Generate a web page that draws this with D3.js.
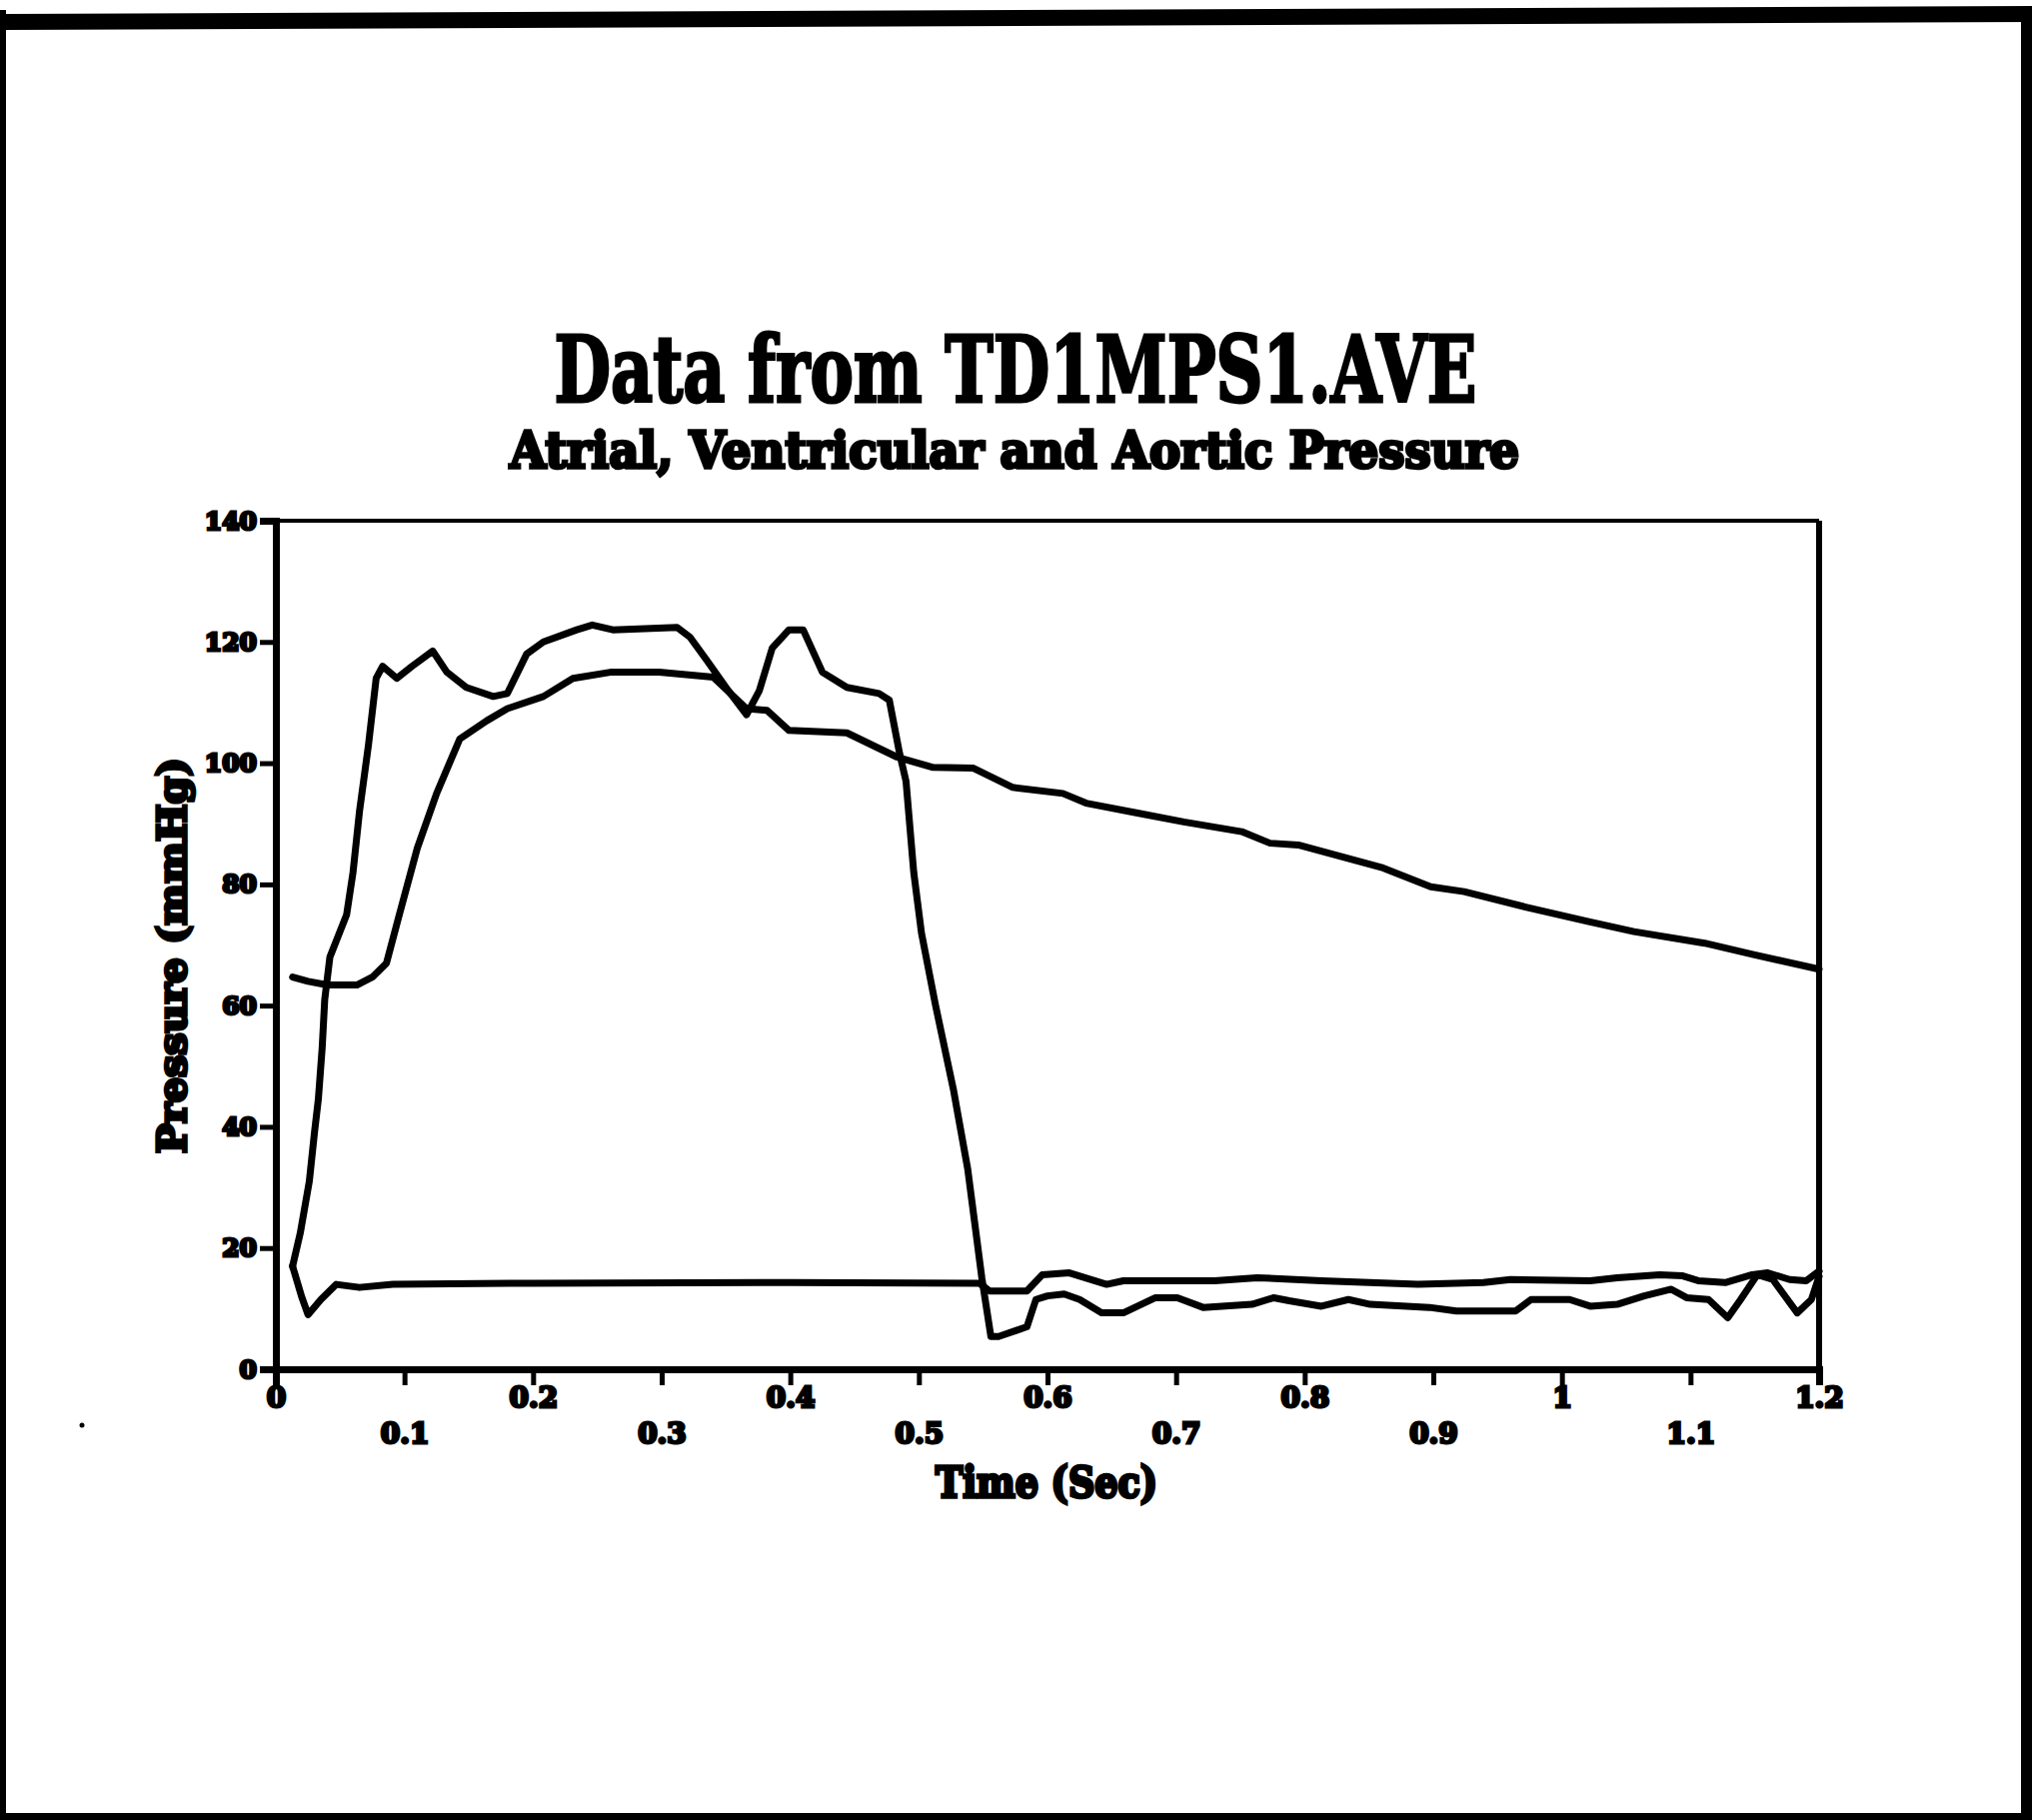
<!DOCTYPE html>
<html>
<head>
<meta charset="utf-8">
<script src="https://cdn.jsdelivr.net/npm/d3@7"></script>
<style>
  html, body { margin: 0; padding: 0; background: #fff; }
  svg { display: block; }
</style>
</head>
<body>
<script>
// ---------- data ----------
const titleText = "Data from TD1MPS1.AVE";
const subtitleText = "Atrial,  Ventricular and Aortic Pressure";
const xLabelText = "Time  (Sec)";
const yLabelText = "Pressure  (mmHg)";

const xTicks = [0, 0.1, 0.2, 0.3, 0.4, 0.5, 0.6, 0.7, 0.8, 0.9, 1.0, 1.1, 1.2];
const xTickLabels = ["0", "0.1", "0.2", "0.3", "0.4", "0.5", "0.6", "0.7", "0.8", "0.9", "1", "1.1", "1.2"];
const yTicks = [0, 20, 40, 60, 80, 100, 120, 140];
const yTickLabels = ["0", "20", "40", "60", "80", "100", "120", "140"];

// Ventricular pressure (mmHg) vs time (s)
const ventTime = [0.013,0.019,0.026,0.030,0.033,0.036,0.038,0.042,0.055,0.060,0.065,0.072,0.078,0.083,0.094,0.106,0.122,0.133,0.148,0.169,0.180,0.195,0.208,0.234,0.246,0.262,0.312,0.322,0.335,0.350,0.366,0.376,0.386,0.399,0.410,0.425,0.444,0.469,0.477,0.485,0.490,0.496,0.502,0.513,0.527,0.538,0.549,0.556,0.562,0.584,0.591,0.600,0.613,0.625,0.642,0.659,0.684,0.701,0.721,0.759,0.776,0.788,0.813,0.834,0.851,0.897,0.918,0.964,0.976,1.006,1.022,1.043,1.064,1.085,1.097,1.114,1.129,1.139,1.152,1.164,1.183,1.194,1.200];
const ventP    = [17,22.5,31,39,44.5,53,61,68,75,82,92,103,114,116,114,116,118.5,115,112.5,111,111.5,118,120,122,122.8,122,122.4,120.8,117,112.5,108,112,119,122,122,115,112.5,111.5,110.4,101.6,97,82,72,60,46,33,15,5.4,5.4,7,11.5,12.1,12.4,11.5,9.3,9.3,11.8,11.8,10.2,10.7,11.8,11.3,10.4,11.5,10.7,10.2,9.6,9.6,11.5,11.5,10.4,10.7,12.1,13.2,11.8,11.5,8.5,11.5,15.6,14.8,9.3,11.5,15.3];

// Aortic pressure
const aortTime = [0.013,0.025,0.040,0.063,0.075,0.086,0.096,0.110,0.125,0.143,0.164,0.180,0.208,0.231,0.260,0.298,0.340,0.366,0.382,0.399,0.444,0.483,0.511,0.542,0.573,0.612,0.630,0.669,0.706,0.751,0.773,0.795,0.861,0.898,0.924,0.971,1.020,1.056,1.111,1.149,1.200];
const aortP    = [64.7,64,63.4,63.4,64.7,67,75,86,95,104,107,109,111,114,115,115,114.2,109,108.7,105.4,105,101,99.3,99.2,96,95,93.4,91.8,90.3,88.7,86.8,86.5,82.7,79.6,78.8,76.3,73.9,72.2,70.3,68.4,66];

// Atrial pressure
const atrTime = [0.013,0.020,0.025,0.035,0.047,0.065,0.091,0.200,0.400,0.547,0.555,0.584,0.596,0.617,0.646,0.659,0.730,0.763,0.813,0.888,0.939,0.960,1.022,1.043,1.076,1.094,1.106,1.127,1.148,1.160,1.177,1.190,1.200];
const atrP    = [17,12,9,11.5,14,13.5,14,14.2,14.3,14.2,12.9,12.9,15.6,15.9,14.0,14.6,14.6,15.1,14.6,14.0,14.3,14.8,14.6,15.1,15.6,15.4,14.6,14.3,15.6,15.9,14.8,14.6,16.2];

// ---------- drawing ----------
const W = 2033, H = 1821;
const svg = d3.select("body").append("svg").attr("width", W).attr("height", H);
svg.append("rect").attr("width", W).attr("height", H).attr("fill", "#fff");

// outer frame
const frame = svg.append("g").attr("fill", "#000");
frame.append("polygon").attr("points", "0,14 2033,6 2033,22 0,30");
frame.append("rect").attr("x", 0).attr("y", 10).attr("width", 6).attr("height", H - 10);
frame.append("rect").attr("x", W - 11).attr("y", 7).attr("width", 11).attr("height", H - 7);
frame.append("rect").attr("x", 0).attr("y", H - 7).attr("width", W).attr("height", 7);
frame.append("circle").attr("cx", 82).attr("cy", 1426).attr("r", 2.5);

const x = d3.scaleLinear().domain([0, 1.2]).range([276, 1820]);
const y = d3.scaleLinear().domain([0, 140]).range([1370, 521]);

const serif = "'DejaVu Serif', 'Liberation Serif', serif";

// titles
svg.append("text").attr("x", 1016).attr("y", 402).attr("text-anchor", "middle")
  .attr("font-family", serif).attr("font-weight", "bold").attr("font-size", 92)
  .attr("textLength", 923).attr("lengthAdjust", "spacingAndGlyphs")
  .attr("stroke", "#000").attr("stroke-width", 3)
  .text(titleText);
svg.append("text").attr("x", 1015).attr("y", 468).attr("text-anchor", "middle")
  .attr("font-family", serif).attr("font-weight", "bold").attr("font-size", 50)
  .attr("textLength", 1010).attr("lengthAdjust", "spacingAndGlyphs")
  .attr("stroke", "#000").attr("stroke-width", 3.5)
  .text(subtitleText);

// axis labels
svg.append("text").attr("transform", "translate(186,956) rotate(-90)").attr("text-anchor", "middle")
  .attr("font-family", serif).attr("font-weight", "bold").attr("font-size", 40)
  .attr("textLength", 396).attr("lengthAdjust", "spacingAndGlyphs")
  .attr("stroke", "#000").attr("stroke-width", 3.5)
  .text(yLabelText);
svg.append("text").attr("x", 1047).attr("y", 1498).attr("text-anchor", "middle")
  .attr("font-family", serif).attr("font-weight", "bold").attr("font-size", 42)
  .attr("textLength", 222).attr("lengthAdjust", "spacingAndGlyphs")
  .attr("stroke", "#000").attr("stroke-width", 3.5)
  .text(xLabelText);

// plot box (top & right)
svg.append("line").attr("x1", x(0)).attr("x2", x(1.2)).attr("y1", y(140)).attr("y2", y(140))
  .attr("stroke", "#000").attr("stroke-width", 4);
svg.append("line").attr("x1", x(1.2)).attr("x2", x(1.2)).attr("y1", y(140)).attr("y2", y(0))
  .attr("stroke", "#000").attr("stroke-width", 6);

// y axis
const yAxis = svg.append("g").attr("transform", `translate(${x(0)},0)`)
  .call(d3.axisLeft(y).tickValues(yTicks).tickSize(16).tickPadding(3)
    .tickFormat((d, i) => yTickLabels[i]));
yAxis.select(".domain").attr("stroke", "#000").attr("stroke-width", 7);
yAxis.selectAll(".tick line").attr("stroke", "#000").attr("stroke-width", 5);
yAxis.selectAll(".tick text").attr("font-family", serif).attr("font-weight", "bold")
  .attr("font-size", 25).attr("fill", "#000").attr("stroke", "#000").attr("stroke-width", 3);

// x axis
const xAxis = svg.append("g").attr("transform", `translate(0,${y(0)})`)
  .call(d3.axisBottom(x).tickValues(xTicks).tickSize(16).tickPadding(4)
    .tickFormat((d, i) => xTickLabels[i]));
xAxis.select(".domain").attr("stroke", "#000").attr("stroke-width", 7);
xAxis.selectAll(".tick line").attr("stroke", "#000").attr("stroke-width", 5);
xAxis.selectAll(".tick text").attr("font-family", serif).attr("font-weight", "bold")
  .attr("font-size", 28).attr("fill", "#000").attr("stroke", "#000").attr("stroke-width", 3)
  .attr("y", (d, i) => i % 2 === 0 ? 18 : 54);

// curves
const line = d3.line().x(d => x(d[0])).y(d => y(d[1])).curve(d3.curveLinear);
const series = [
  d3.zip(aortTime, aortP),
  d3.zip(ventTime, ventP),
  d3.zip(atrTime, atrP)
];
svg.append("g").selectAll("path").data(series).join("path")
  .attr("d", line)
  .attr("fill", "none").attr("stroke", "#000").attr("stroke-width", 7)
  .attr("stroke-linejoin", "round").attr("stroke-linecap", "round");
</script>
</body>
</html>
